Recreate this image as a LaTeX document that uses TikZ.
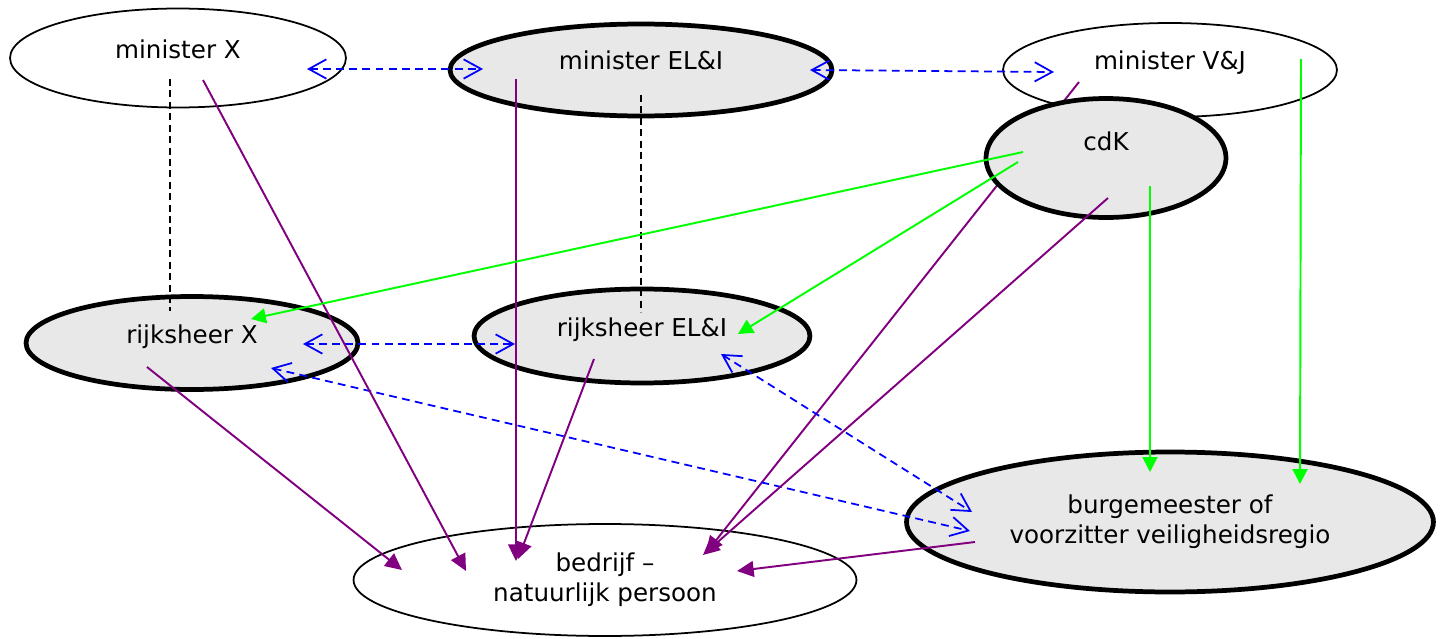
\documentclass[tikz,border=0pt]{standalone}
\usepackage{fontspec}
\setmainfont{DejaVu Sans}
\usetikzlibrary{arrows.meta, shapes.geometric}
\definecolor{purp}{RGB}{128,0,128}
\definecolor{grn}{RGB}{0,255,0}
\tikzset{
	ell/.style={ellipse, draw, line width=1pt, fill=white, inner sep=0pt, font=\fontsize{14}{17}\selectfont, align=center},
	ellbold/.style={ell, line width=2.7pt, fill=black!9},
	oneline/.style={text height=5pt, text depth=5pt},
	purpline/.style={purp, line width=1.1pt, -{Triangle[length=9.5pt, width=9pt]}},
	greenline/.style={grn, line width=1.1pt, -{Triangle[length=8.5pt, width=8.5pt]}},
	blueline/.style={blue, line width=1pt, dash pattern=on 4.5pt off 3pt, {Straight Barb[length=10pt, width=11pt]}-{Straight Barb[length=10pt, width=11pt]}},
	blackline/.style={black, line width=0.8pt, dash pattern=on 4pt off 2.5pt},
}
\begin{document}
\begin{tikzpicture}[x=0.02cm, y=-0.02cm]
				\useasboundingbox (0,0) rectangle (1445,639);
				\node[ell, oneline, minimum width=6.72cm, minimum height=1.98cm] (mX) at (178,58) {minister X};
				\node[ellbold, oneline, minimum width=7.64cm, minimum height=1.84cm] (mEL) at (641,70) {minister EL\&I};
				\node[ell, oneline, minimum width=6.68cm, minimum height=1.88cm] (mVJ) at (1170,70) {minister V\&J};
				\node[ellbold, oneline, minimum width=6.64cm, minimum height=1.86cm] (rX) at (192,343) {rijksheer X};
				\node[ellbold, oneline, minimum width=6.72cm, minimum height=1.88cm] (rEL) at (642,336) {rijksheer EL\&I};
				\node[ellbold, minimum width=10.54cm, minimum height=2.8cm] (bg) at (1170,522) {burgemeester of\\voorzitter veiligheidsregio};
				\node[ell, minimum width=10.06cm, minimum height=2.24cm] (bd) at (605,580) {bedrijf --\\natuurlijk persoon};
				\draw[purpline] ([shift={(-91,12)}]mVJ.center) -- ([shift={(101,-27)}]bd.center);
				\node[ellbold, text height=1pt, text depth=10pt, minimum width=4.8cm, minimum height=2.38cm] (cdK) at (1106,158) {cdK};
				\draw[blackline] ([shift={(-8,21)}]mX.center) -- ([shift={(-22,-32)}]rX.center);
				\draw[blackline] ([shift={(0,25)}]mEL.center) -- ([shift={(-1,-24)}]rEL.center);
				\draw[blueline] ([shift={(129,11)}]mX.center) -- ([shift={(-158,-1)}]mEL.center);
				\draw[blueline] ([shift={(169,0)}]mEL.center) -- ([shift={(-116,2)}]mVJ.center);
				\draw[blueline] ([shift={(111,1)}]rX.center) -- ([shift={(-127,8)}]rEL.center);
				\draw[blueline] ([shift={(79,25)}]rX.center) -- ([shift={(-200,9)}]bg.center);
				\draw[blueline] ([shift={(79,18)}]rEL.center) -- ([shift={(-198,-10)}]bg.center);
				\draw[purpline] ([shift={(25,22)}]mX.center) -- ([shift={(-139,-9)}]bd.center);
				\draw[purpline] ([shift={(-125,9)}]mEL.center) -- ([shift={(-89,-19)}]bd.center);
				\draw[purpline] ([shift={(-45,24)}]rX.center) -- ([shift={(-203,-10)}]bd.center);
				\draw[purpline] ([shift={(-48,23)}]rEL.center) -- ([shift={(-87,-21)}]bd.center);
				\draw[purpline] ([shift={(2,40)}]cdK.center) -- ([shift={(98,-25)}]bd.center);
				\draw[purpline] ([shift={(-195,20)}]bg.center) -- ([shift={(132,-9)}]bd.center);
				\draw[greenline] ([shift={(-83,-6)}]cdK.center) -- ([shift={(59,-24)}]rX.center);
				\draw[greenline] ([shift={(-88,4)}]cdK.center) -- ([shift={(96,-2)}]rEL.center);
				\draw[greenline] ([shift={(44,28)}]cdK.center) -- ([shift={(-20,-50)}]bg.center);
				\draw[greenline] ([shift={(131,-11)}]mVJ.center) -- ([shift={(130,-38)}]bg.center);
			\end{tikzpicture}
\end{document}
